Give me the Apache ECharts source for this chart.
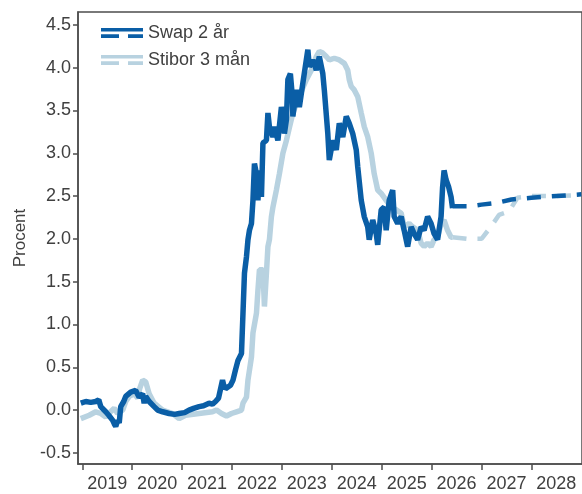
<!DOCTYPE html>
<html>
<head>
<meta charset="utf-8">
<script src="https://cdn.jsdelivr.net/npm/echarts@6/dist/echarts.min.js"></script>
<style>
html,body{margin:0;padding:0;background:#fff;}
#chart{width:582px;height:494px;}
</style>
</head>
<body>
<div id="chart"></div>
<script>
// Decimal-year time stamps and values
const swapTime = [2018.97,2019.07,2019.17,2019.27,2019.33,2019.37,2019.47,2019.53,2019.61,2019.64,2019.67,2019.71,2019.74,2019.77,2019.83,2019.87,2019.97,2020.07,2020.14,2020.21,2020.24,2020.27,2020.34,2020.44,2020.51,2020.61,2020.74,2020.85,2020.94,2021.05,2021.14,2021.23,2021.34,2021.43,2021.54,2021.61,2021.67,2021.73,2021.77,2021.81,2021.83,2021.87,2021.92,2021.97,2022.02,2022.07,2022.12,2022.19,2022.22,2022.25,2022.29,2022.32,2022.35,2022.39,2022.42,2022.45,2022.49,2022.52,2022.55,2022.59,2022.62,2022.69,2022.72,2022.75,2022.82,2022.85,2022.92,2022.99,2023.02,2023.05,2023.09,2023.12,2023.17,2023.21,2023.22,2023.29,2023.35,2023.42,2023.52,2023.55,2023.62,2023.69,2023.75,2023.82,2023.85,2023.92,2023.95,2024.02,2024.09,2024.15,2024.22,2024.29,2024.35,2024.42,2024.49,2024.52,2024.59,2024.65,2024.72,2024.75,2024.82,2024.89,2024.92,2024.99,2025.05,2025.09,2025.15,2025.22,2025.25,2025.32,2025.39,2025.45,2025.52,2025.59,2025.65,2025.72,2025.79,2025.85,2025.92,2025.99,2026.05,2026.12,2026.19,2026.22,2026.25,2026.29,2026.34,2026.39,2026.42];
const swapValue = [0.08,0.10,0.09,0.10,0.12,0.04,-0.02,-0.06,-0.12,-0.16,-0.19,-0.12,-0.15,0.04,0.10,0.16,0.21,0.23,0.15,0.19,0.08,0.16,0.10,0.04,0.00,-0.02,-0.04,-0.05,-0.04,-0.03,0.00,0.02,0.04,0.05,0.08,0.07,0.10,0.14,0.16,0.35,0.30,0.25,0.27,0.29,0.35,0.47,0.58,0.66,1.13,1.60,1.79,1.99,2.10,2.18,2.45,2.88,2.76,2.45,2.80,2.49,3.12,3.15,3.47,3.31,3.19,3.31,3.15,3.54,3.43,3.23,3.39,3.86,3.93,3.66,3.43,3.74,3.54,3.82,4.21,4.01,4.09,3.97,4.13,3.93,3.74,3.23,2.92,3.15,3.04,3.35,3.19,3.43,3.35,3.23,3.04,2.84,2.45,2.26,2.14,1.99,2.22,2.06,1.93,2.34,2.37,2.10,2.45,2.57,2.26,2.18,2.26,2.10,1.91,2.14,2.06,1.99,2.14,2.10,2.26,2.18,2.06,1.99,2.26,2.60,2.80,2.69,2.61,2.49,2.36];

const stiborTime = [2018.97,2019.14,2019.27,2019.37,2019.47,2019.53,2019.64,2019.71,2019.81,2019.87,2019.94,2020.04,2020.11,2020.15,2020.21,2020.27,2020.34,2020.44,2020.61,2020.81,2020.94,2021.07,2021.34,2021.61,2021.69,2021.79,2021.89,2021.99,2022.09,2022.19,2022.22,2022.29,2022.32,2022.39,2022.42,2022.49,2022.52,2022.55,2022.62,2022.65,2022.69,2022.72,2022.75,2022.79,2022.82,2022.89,2022.95,2023.02,2023.09,2023.15,2023.22,2023.32,2023.41,2023.49,2023.59,2023.69,2023.75,2023.82,2023.89,2023.95,2024.05,2024.15,2024.25,2024.32,2024.35,2024.39,2024.45,2024.52,2024.59,2024.65,2024.72,2024.79,2024.85,2024.92,2024.99,2025.09,2025.19,2025.29,2025.39,2025.45,2025.55,2025.62,2025.72,2025.79,2025.85,2025.92,2025.99,2026.05,2026.12,2026.19,2026.25,2026.32,2026.39,2026.42];
const stiborValue = [-0.10,-0.06,-0.02,-0.04,-0.08,-0.04,0.02,-0.04,0.00,0.10,0.16,0.19,0.14,0.25,0.35,0.33,0.19,0.08,0.00,-0.04,-0.10,-0.06,-0.04,-0.02,0.00,-0.04,-0.07,-0.04,-0.02,0.00,0.08,0.15,0.35,0.62,0.90,1.13,1.40,1.64,1.64,1.21,1.60,1.91,1.99,2.26,2.37,2.57,2.76,3.00,3.15,3.30,3.47,3.62,3.75,3.86,3.97,4.13,4.19,4.17,4.13,4.09,4.11,4.09,4.05,3.97,3.86,3.78,3.74,3.66,3.47,3.31,3.19,3.00,2.76,2.57,2.53,2.45,2.37,2.34,2.30,2.14,2.18,2.14,2.10,1.95,1.91,1.95,1.91,1.99,2.02,2.18,2.22,2.10,2.02,2.02];

const swapFcTime = [2026.42,2026.75,2027.0,2027.3,2027.6,2028.0,2028.5,2029.0];
const swapFcValue = [2.38,2.38,2.40,2.42,2.46,2.48,2.50,2.52];
const stiborFcTime = [2026.42,2026.7,2027.0,2027.2,2027.35,2027.55,2027.72,2028.0,2028.5,2029.0];
const stiborFcValue = [2.02,2.00,2.00,2.15,2.28,2.32,2.48,2.50,2.50,2.51];

const yTicks = [-0.5,0,0.5,1,1.5,2,2.5,3,3.5,4,4.5];
const yearTicks = [2019,2020,2021,2022,2023,2024,2025,2026,2027,2028];
const yearLabels = yearTicks.map(y => y + 0.5);

const zip = (t, v) => t.map((x, i) => [x, v[i]]);

const DARK = '#0a5ea6';
const LIGHT = '#b8d2e0';
const TXT = '#404040';
const AX = '#4d4d4d';
const FONT = 'Liberation Sans, Arial, sans-serif';
const FS = 18;

const iconPath = 'path://M0 0H42V3.5H0Z M0 6.3H18V10H0Z M27 6.3H42V10H27Z';

const chart = echarts.init(document.getElementById('chart'), null, {renderer: 'canvas'});
chart.setOption({
  animation: false,
  backgroundColor: '#fff',
  textStyle: {fontFamily: FONT},
  grid: {left: 78, right: -1, top: 12, bottom: 30, show: true, borderColor: AX, borderWidth: 1.5, backgroundColor: 'transparent'},
  legend: {
    left: 96, top: 19, orient: 'vertical', itemGap: 9,
    itemWidth: 42, itemHeight: 10,
    textStyle: {fontSize: FS, color: TXT, fontFamily: FONT},
    data: [
      {name: 'Swap 2 år', icon: iconPath},
      {name: 'Stibor 3 mån', icon: iconPath}
    ]
  },
  xAxis: {
    type: 'value', min: 2018.914, max: 2029.014,
    axisLine: {show: true, onZero: false, lineStyle: {color: AX, width: 1.5}},
    axisTick: {show: true, customValues: yearTicks, length: 6, lineStyle: {color: AX, width: 1.5}},
    axisLabel: {customValues: yearLabels, formatter: v => String(Math.floor(v)), fontSize: FS, color: TXT, margin: 11, fontFamily: FONT},
    splitLine: {show: false}
  },
  yAxis: {
    type: 'value', min: -0.63, max: 4.65,
    name: 'Procent', nameLocation: 'middle', nameGap: 48,
    nameTextStyle: {fontSize: 17, color: TXT, fontFamily: FONT},
    axisLine: {show: true, lineStyle: {color: AX, width: 1.5}},
    axisTick: {show: true, customValues: yTicks, length: 5, lineStyle: {color: AX, width: 1.5}},
    axisLabel: {customValues: yTicks, formatter: v => v.toFixed(1), fontSize: FS, color: TXT, margin: 7, fontFamily: FONT},
    splitLine: {show: false}
  },
  series: [
    {name: 'Stibor 3 mån', type: 'line', data: zip(stiborTime, stiborValue), showSymbol: false, z: 2,
     lineStyle: {color: LIGHT, width: 5.5}, itemStyle: {color: LIGHT}},
    {name: 'Stibor prognos', type: 'line', data: zip(stiborFcTime, stiborFcValue), showSymbol: false, z: 2,
     lineStyle: {color: LIGHT, width: 4.5, type: [14, 11]}, itemStyle: {color: LIGHT}},
    {name: 'Swap 2 år', type: 'line', data: zip(swapTime, swapValue), showSymbol: false, z: 3,
     lineStyle: {color: DARK, width: 5.5}, itemStyle: {color: DARK}},
    {name: 'Swap prognos', type: 'line', data: zip(swapFcTime, swapFcValue), showSymbol: false, z: 3,
     lineStyle: {color: DARK, width: 4.5, type: [14, 11]}, itemStyle: {color: DARK}}
  ]
});
</script>
</body>
</html>
